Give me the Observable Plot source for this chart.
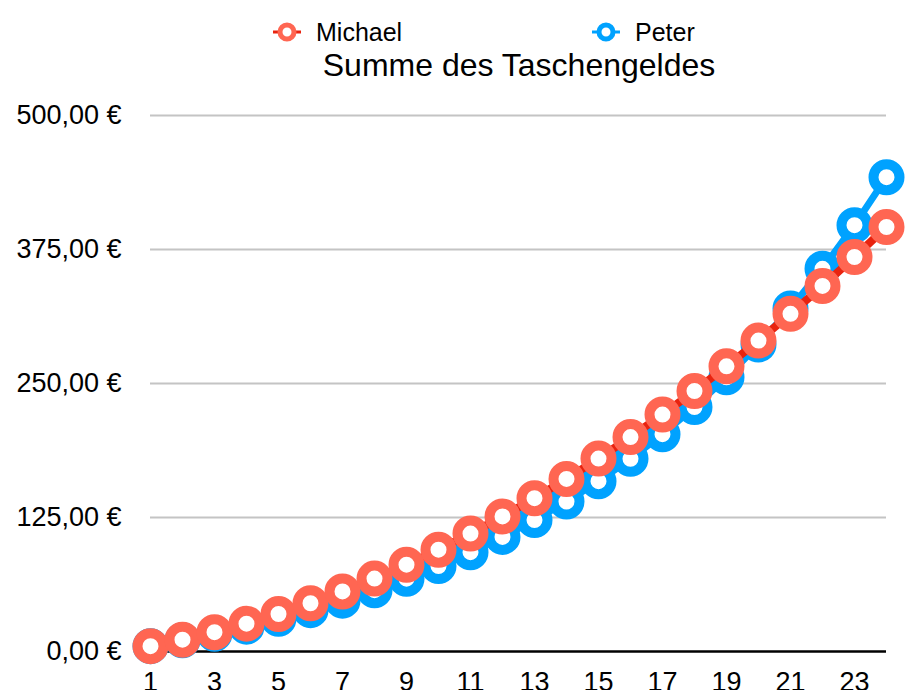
<!DOCTYPE html>
<html>
<head>
<meta charset="utf-8">
<script src="https://cdn.jsdelivr.net/npm/d3@7"></script>
<script src="https://cdn.jsdelivr.net/npm/@observablehq/plot@0.6"></script>
<style>
  html, body { margin: 0; padding: 0; background: #fff; }
  body { width: 910px; height: 690px; overflow: hidden; font-family: "Liberation Sans", Arial, Helvetica, sans-serif; }
  #header { position: relative; width: 910px; height: 88px; }
  .leg { position: absolute; top: 17px; font-size: 25px; line-height: 30px; color: #000; display: flex; align-items: center; }
  .leg svg { margin-right: 14px; }
  #title { position: absolute; left: 0; width: 1038px; top: 47px; text-align: center; font-size: 32px; line-height: 36px; color: #000; }
</style>
</head>
<body>
<div id="header"></div>
<div id="chart"></div>
<script>
const months = [1, 2, 3, 4, 5, 6, 7, 8, 9, 10, 11, 12, 13, 14, 15, 16, 17, 18, 19, 20, 21, 22, 23, 24];
const michael = [5, 11, 18, 26, 35, 45, 56, 68, 81, 95, 110, 126, 143, 161, 180, 200, 221, 243, 266, 290, 315, 341, 368, 396];
const peter = [5, 10.5, 16.55, 23.2, 30.53, 38.58, 47.44, 57.18, 67.9, 79.69, 92.66, 106.92, 122.61, 139.87, 158.86, 179.75, 202.72, 227.99, 255.79, 286.37, 320.01, 357.01, 397.71, 442.49];
const seriesNames = ["Michael", "Peter"];
const titleText = "Summe des Taschengeldes";
const yTicks = [0, 125, 250, 375, 500];
const yTickLabels = ["0,00 €", "125,00 €", "250,00 €", "375,00 €", "500,00 €"];
const xTicks = [1, 3, 5, 7, 9, 11, 13, 15, 17, 19, 21, 23];

const colors = {
  Michael: { line: "#e8230f", marker: "#ff6652" },
  Peter: { line: "#00a2ff", marker: "#00a2ff" }
};

// Header: legend + title
const header = document.getElementById("header");
const legendPos = { Michael: 272, Peter: 591 };
seriesNames.forEach(name => {
  const d = document.createElement("div");
  d.className = "leg";
  d.style.left = legendPos[name] + "px";
  const c = colors[name];
  d.innerHTML = `<svg width="30" height="24" viewBox="0 0 30 24">
    <line x1="1" y1="12" x2="29" y2="12" stroke="${c.line}" stroke-width="3"/>
    <circle cx="15" cy="12" r="7" fill="#fff" stroke="${c.marker}" stroke-width="5"/>
  </svg><span>${name}</span>`;
  header.appendChild(d);
});
const t = document.createElement("div");
t.id = "title";
t.textContent = titleText;
header.appendChild(t);

const mData = months.map((m, i) => ({ month: m, value: michael[i] }));
const pData = months.map((m, i) => ({ month: m, value: peter[i] }));

const chart = Plot.plot({
  width: 910,
  height: 602,
  marginTop: 27,
  marginBottom: 39,
  marginLeft: 150,
  marginRight: 24,
  x: { domain: [1, 24], label: null },
  y: { domain: [0, 500], label: null },
  style: {
    fontFamily: '"Liberation Sans", Arial, Helvetica, sans-serif',
    fontSize: "27px",
    color: "#000",
    background: "transparent",
    overflow: "visible"
  },
  marks: [
    Plot.ruleY(yTicks.filter(v => v > 0), { stroke: "#c4c4c4", strokeWidth: 2 }),
    Plot.ruleY([0], { stroke: "#000", strokeWidth: 2.5 }),
    Plot.axisY(yTicks, {
      tickSize: 0,
      tickPadding: 29,
      fontSize: 27,
      tickFormat: d => yTickLabels[yTicks.indexOf(d)]
    }),
    Plot.axisX(xTicks, {
      tickSize: 0,
      tickPadding: 20,
      fontSize: 27,
      tickFormat: d => String(d)
    }),
    Plot.line(pData, { x: "month", y: "value", stroke: colors.Peter.line, strokeWidth: 7 }),
    Plot.dot(pData, { x: "month", y: "value", r: 13, fill: "#fff", stroke: colors.Peter.marker, strokeWidth: 10 }),
    Plot.line(mData, { x: "month", y: "value", stroke: colors.Michael.line, strokeWidth: 8 }),
    Plot.dot(mData, { x: "month", y: "value", r: 13, fill: "#fff", stroke: colors.Michael.marker, strokeWidth: 10 })
  ]
});
document.getElementById("chart").appendChild(chart);
</script>
</body>
</html>
